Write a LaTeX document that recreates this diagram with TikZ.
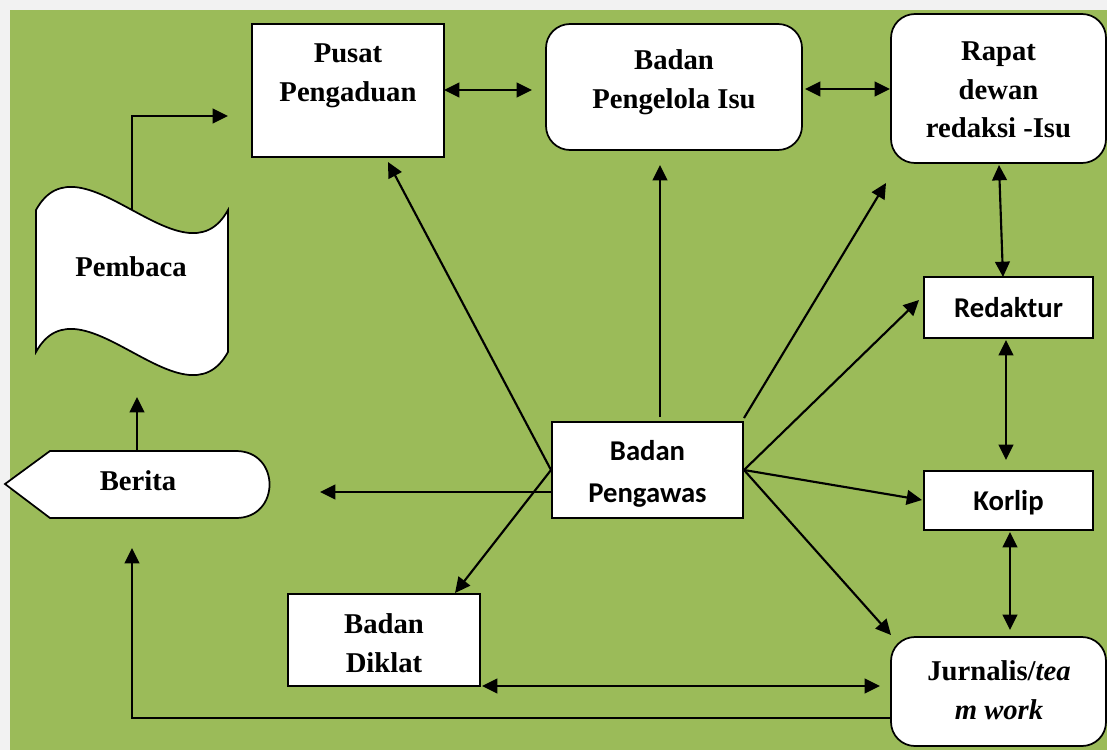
\documentclass[tikz,border=0pt]{standalone}
\usepackage{fontspec}
\setmainfont{Liberation Serif}
\newfontfamily\carlito{Carlito}
\usetikzlibrary{arrows.meta,calc}
\definecolor{bggreen}{HTML}{9BBB59}
\definecolor{bggray}{HTML}{F2F2F2}
\tikzset{
  box/.style={draw, fill=white, line width=1.3pt, inner sep=0pt},
  rbox/.style={box, rounded corners=18pt},
  txt/.style={font=\fontsize{21.5}{29}\selectfont\bfseries, align=center, inner sep=0pt},
  stxt/.style={font=\carlito\fontsize{21.5}{31.5}\selectfont\bfseries, align=center, inner sep=0pt},
  conn/.style={line width=1.6pt, -{Triangle[length=11.5pt,width=11pt]}},
  biconn/.style={line width=1.6pt, {Triangle[length=11.5pt,width=11pt]}-{Triangle[length=11.5pt,width=11pt]}},
  shapeline/.style={draw, fill=white, line width=1.3pt}
}
\begin{document}
\begin{tikzpicture}[x=0.75pt,y=-0.75pt]
\useasboundingbox (0,0) rectangle (1107,750);
\fill[bggray] (0,0) rectangle (1107,750);
\fill[bggreen] (10,10) rectangle (1107,750);

% Pembaca (wavy document)
\path[shapeline] (36,210) .. controls (80,130) and (184,290) .. (228,210)
  -- (228,352) .. controls (184,432) and (80,272) .. (36,352) -- cycle;
\node[txt] (pembaca) at (131,267) {Pembaca};
\coordinate (pembacaTop) at (132,210);
\coordinate (pembacaIn) at (137,397);
\coordinate (pusatIn) at (228,116);

% Berita (display shape)
\path[shapeline] (5,484) -- (50,451) -- (236,451)
  .. controls (280.7,451) and (280.7,518) .. (236,518) -- (50,518) -- cycle;
\node[txt] (berita) at (138,481) {Berita};
\coordinate (beritaTop) at (137,451);
\coordinate (beritaIn) at (132,548);
\coordinate (beritaLeft) at (320,492);

% boxes
\node[box, minimum width=144pt, minimum height=99.75pt] (pusat) at (348,90.5) {};
\node[txt] (pusatT) at (348,76) {Pusat\\Pengaduan};
\node[rbox, minimum width=192pt, minimum height=94.5pt] (pengelola) at (674,87) {};
\node[txt] (pengelolaT) at (674,82.5) {Badan\\Pengelola Isu};
\node[rbox, minimum width=161.25pt, minimum height=111.75pt] (rapat) at (998.5,88.5) {};
\node[txt] (rapatT) at (998.5,90) {Rapat\\dewan\\redaksi -Isu};
\node[box, minimum width=126.75pt, minimum height=45.75pt] (redaktur) at (1008.5,307.5) {};
\node[stxt] (redakturT) at (1008.5,308) {Redaktur};
\node[box, minimum width=126.75pt, minimum height=44.25pt] (korlip) at (1008.5,500.5) {};
\node[stxt] (korlipT) at (1008.5,502.5) {Korlip};
\node[box, minimum width=143.25pt, minimum height=72pt] (pengawas) at (647.5,470) {};
\node[stxt] (pengawasT) at (647.5,474) {Badan\\Pengawas};
\node[box, minimum width=144pt, minimum height=69pt] (diklat) at (384,640) {};
\node[txt] (diklatT) at (384,643) {Badan\\Diklat};
\node[rbox, minimum width=161.25pt, minimum height=81.75pt] (jurnalis) at (998.5,691.5) {};
\node[txt] (jurnalisT) at (999,690) {Jurnalis/\textit{tea}\\\textit{m work}};

% coordinates for connector ends
\coordinate (pusatR) at (444,90);
\coordinate (pengelolaL) at (532,90);
\coordinate (pengelolaR) at (805,89);
\coordinate (rapatL) at (890,89);
\coordinate (rapatB) at (999,165);
\coordinate (redakturTop) at (1003,277);
\coordinate (redakturB) at (1006,340);
\coordinate (korlipTop) at (1006,460);
\coordinate (korlipB) at (1010,532);
\coordinate (jurnalisTop) at (1010,630);
\coordinate (diklatR) at (482,686);
\coordinate (jurnalisL) at (880,686);
\coordinate (jurnalisOut) at (891,718);
\coordinate (pusatB) at (388,162);
\coordinate (pengelolaB) at (660,165);
\coordinate (pengawasTop) at (660,417);
\coordinate (pengawasNE) at (744,418);
\coordinate (pengawasW) at (551,470);
\coordinate (pengawasE) at (744,470);
\coordinate (pengawasWL) at (552,492);
\coordinate (rapatIn) at (886,183);
\coordinate (redakturIn) at (919,300);
\coordinate (korlipIn) at (922,500);
\coordinate (jurnalisIn) at (891,635);
\coordinate (diklatIn) at (455,593);

% connectors
\draw[conn] (pembacaTop) |- (pusatIn);
\draw[conn] (beritaTop) -- (pembacaIn);
\draw[biconn] (pusatR) -- (pengelolaL);
\draw[biconn] (pengelolaR) -- (rapatL);
\draw[biconn] (rapatB) -- (redakturTop);
\draw[biconn] (redakturB) -- (korlipTop);
\draw[biconn] (korlipB) -- (jurnalisTop);
\draw[biconn] (diklatR) -- (jurnalisL);
\draw[conn] (jurnalisOut) -| (beritaIn);
\draw[conn] (pengawasW) -- (pusatB);
\draw[conn] (pengawasTop) -- (pengelolaB);
\draw[conn] (pengawasNE) -- (rapatIn);
\draw[conn] (pengawasE) -- (redakturIn);
\draw[conn] (pengawasE) -- (korlipIn);
\draw[conn] (pengawasE) -- (jurnalisIn);
\draw[conn] (pengawasWL) -- (beritaLeft);
\draw[conn] (pengawasW) -- (diklatIn);
\end{tikzpicture}
\end{document}
